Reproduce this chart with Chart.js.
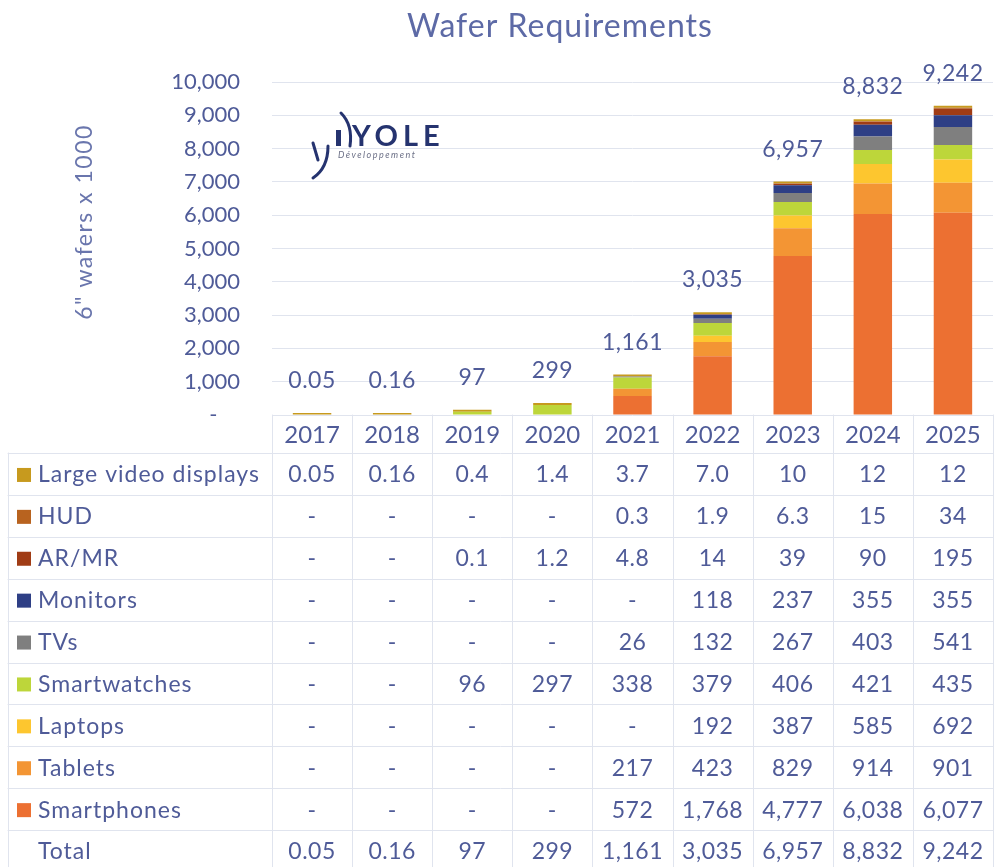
<!DOCTYPE html>
<html>
<head>
<meta charset="utf-8">
<title>Wafer Requirements</title>
<script src="https://cdn.jsdelivr.net/npm/chart.js@4.4.1/dist/chart.umd.min.js"></script>
<style>
  html, body { margin: 0; padding: 0; background: #fff; }
  #wrap { width: 995px; height: 867px; }
</style>
</head>
<body>
<div id="wrap"><canvas id="chart" width="995" height="867"></canvas></div>
<script>
// --- Data (6" wafers x 1000), null = "-" ---
const years = ['2017', '2018', '2019', '2020', '2021', '2022', '2023', '2024', '2025'];
const smartphones  = [null, null, null, null, 572, 1768, 4777, 6038, 6077];
const tablets      = [null, null, null, null, 217, 423, 829, 914, 901];
const laptops      = [null, null, null, null, null, 192, 387, 585, 692];
const smartwatches = [null, null, 96, 297, 338, 379, 406, 421, 435];
const tvs          = [null, null, null, null, 26, 132, 267, 403, 541];
const monitors     = [null, null, null, null, null, 118, 237, 355, 355];
const arMr         = [null, null, 0.1, 1.2, 4.8, 14, 39, 90, 195];
const hud          = [null, null, null, null, 0.3, 1.9, 6.3, 15, 34];
const largeVideo   = [0.05, 0.16, 0.4, 1.4, 3.7, 7.0, 10, 12, 12];
const totals       = [0.05, 0.16, 97, 299, 1161, 3035, 6957, 8832, 9242];
const yTicks       = [0, 1000, 2000, 3000, 4000, 5000, 6000, 7000, 8000, 9000, 10000];

const TEXT = '#4f5b98';
const GRID = '#e0e4ee';
const FONT = 'Lato, "Open Sans", sans-serif';

function fmt(v) {
    if (v === null || v === undefined) return '-';
    if (v >= 1000) return v.toLocaleString('en-US');
    if (v < 1) return String(v);
    if (v < 10) return v.toFixed(1);
    return String(v);
}

// stacked bottom -> top
const series = [
    { label: 'Smartphones', data: smartphones, color: '#ec7032' },
    { label: 'Tablets', data: tablets, color: '#f39534' },
    { label: 'Laptops', data: laptops, color: '#fdc62f' },
    { label: 'Smartwatches', data: smartwatches, color: '#bdd63a' },
    { label: 'TVs', data: tvs, color: '#7f7f7f' },
    { label: 'Monitors', data: monitors, color: '#2e3f85' },
    { label: 'AR/MR', data: arMr, color: '#a03c15' },
    { label: 'HUD', data: hud, color: '#b8631f' },
    { label: 'Large video displays', data: largeVideo, color: '#c79a1e' }
];

// Title, axis title, logo, total labels and the data table under the plot
const decorPlugin = {
    id: 'decor',
    afterDraw(chart) {
        const { ctx, chartArea, scales: { x, y } } = chart;
        ctx.save();

        // title
        ctx.fillStyle = '#5d6aa6';
        ctx.font = '32px ' + FONT;
        ctx.letterSpacing = '1px';
        ctx.textAlign = 'center';
        ctx.textBaseline = 'middle';
        ctx.fillText('Wafer Requirements', 560, 27);

        // y axis title
        ctx.save();
        ctx.translate(85, 222);
        ctx.rotate(-Math.PI / 2);
        ctx.fillStyle = '#6a76ad';
        ctx.font = '23px ' + FONT;
        ctx.letterSpacing = '1.5px';
        ctx.fillText('6" wafers x 1000', 0, 0);
        ctx.restore();

        // logo
        ctx.strokeStyle = '#25336f';
        ctx.lineCap = 'round';
        ctx.lineWidth = 3;
        ctx.beginPath();
        ctx.moveTo(341, 113);
        ctx.quadraticCurveTo(353, 125, 350, 146);
        ctx.stroke();
        ctx.beginPath();
        ctx.moveTo(328, 146);
        ctx.quadraticCurveTo(328, 168, 313, 178);
        ctx.stroke();
        ctx.lineWidth = 3;
        ctx.beginPath();
        ctx.moveTo(313, 143);
        ctx.lineTo(318, 160);
        ctx.stroke();
        ctx.fillStyle = '#25336f';
        ctx.fillRect(336, 130, 5, 16);
        ctx.textAlign = 'left';
        ctx.textBaseline = 'alphabetic';
        ctx.font = 'bold 29px ' + FONT;
        ctx.letterSpacing = '5px';
        ctx.fillText('YOLE', 352, 146);
        ctx.font = 'italic 9px ' + FONT;
        ctx.letterSpacing = '1.5px';
        ctx.fillStyle = '#6b6f86';
        ctx.fillText('Développement', 338, 158);

        // totals above bars
        ctx.fillStyle = TEXT;
        ctx.font = '23px ' + FONT;
        ctx.letterSpacing = '0.5px';
        ctx.textAlign = 'center';
        ctx.textBaseline = 'middle';
        totals.forEach((t, i) => {
            ctx.fillText(fmt(t), x.getPixelForValue(i), y.getPixelForValue(t) - 34);
        });

        // table
        const left = 8;
        const right = chartArea.right;
        const headTop = chartArea.bottom;
        const rowTop = headTop + 38;
        const rowH = 41.9;
        const bottom = chart.height;
        const bounds = [chartArea.left];
        for (let i = 0; i < years.length - 1; i++) {
            bounds.push((x.getPixelForValue(i) + x.getPixelForValue(i + 1)) / 2);
        }
        bounds.push(right);

        ctx.strokeStyle = GRID;
        ctx.lineWidth = 1;
        ctx.beginPath();
        bounds.forEach(b => { ctx.moveTo(Math.round(b) + 0.5, headTop); ctx.lineTo(Math.round(b) + 0.5, bottom); });
        ctx.moveTo(left + 0.5, rowTop);
        ctx.lineTo(left + 0.5, bottom);
        for (let r = 0; r <= 10; r++) {
            const yy = Math.round(rowTop + r * rowH) + 0.5;
            ctx.moveTo(left, yy);
            ctx.lineTo(right, yy);
        }
        ctx.stroke();

        const rows = series.slice().reverse().map(s => ({ label: s.label, color: s.color, data: s.data }));
        rows.push({ label: 'Total', color: null, data: totals });

        rows.forEach((row, r) => {
            const cy = rowTop + r * rowH + rowH / 2 + 1;
            if (row.color) {
                ctx.fillStyle = row.color;
                ctx.fillRect(17, cy - 7, 14, 14);
            }
            ctx.fillStyle = TEXT;
            ctx.textAlign = 'left';
            ctx.font = '23px ' + FONT;
            ctx.letterSpacing = '1px';
            ctx.fillText(row.label, 38, cy);
            ctx.textAlign = 'center';
            ctx.font = '23px ' + FONT;
            ctx.letterSpacing = '0.5px';
            row.data.forEach((v, i) => {
                ctx.fillText(fmt(v), x.getPixelForValue(i), cy);
            });
        });

        ctx.restore();
    }
};

new Chart(document.getElementById('chart'), {
    type: 'bar',
    data: {
        labels: years,
        datasets: series.map(s => ({
            label: s.label,
            data: s.data,
            backgroundColor: s.color,
            borderWidth: 0,
            minBarLength: s.label === 'Large video displays' ? 2 : 0
        }))
    },
    options: {
        responsive: false,
        animation: false,
        layout: { padding: { top: 82, right: 2, left: 0, bottom: 0 } },
        plugins: {
            legend: { display: false },
            title: { display: false },
            tooltip: { enabled: false }
        },
        datasets: {
            bar: { categoryPercentage: 1, barPercentage: 0.48 }
        },
        scales: {
            x: {
                stacked: true,
                grid: { display: false, drawTicks: false },
                border: { display: false },
                ticks: { color: TEXT, font: { family: FONT, size: 24 }, padding: 6, maxRotation: 0 },
                afterFit(scale) { scale.height = 452; }
            },
            y: {
                stacked: true,
                min: 0,
                max: 10000,
                afterBuildTicks(scale) { scale.ticks = yTicks.map(v => ({ value: v })); },
                grid: { color: GRID, drawTicks: false },
                border: { display: false },
                ticks: {
                    color: TEXT,
                    font: { family: FONT, size: 22 },
                    padding: 32,
                    callback: v => v === 0 ? '-    ' : v.toLocaleString('en-US')
                },
                afterFit(scale) { scale.width = 272; }
            }
        }
    },
    plugins: [decorPlugin]
});
</script>
</body>
</html>
